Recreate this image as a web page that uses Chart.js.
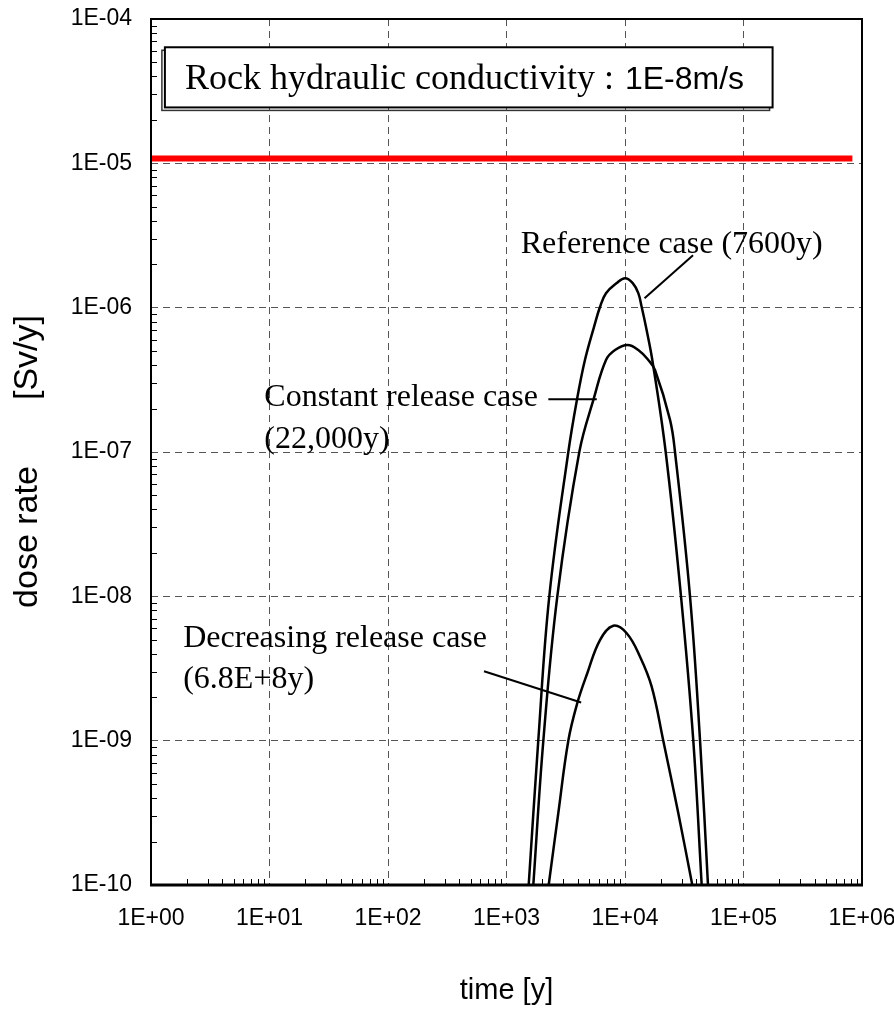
<!DOCTYPE html>
<html>
<head>
<meta charset="utf-8">
<script src="https://cdn.jsdelivr.net/npm/chart.js@4.4.1/dist/chart.umd.min.js"></script>
<style>
  body { margin: 0; background: #fff; }
  #wrap { width: 894px; height: 1011px; }
</style>
</head>
<body>
<div id="wrap"><canvas id="chart-canvas"></canvas></div>
<script>
// axis ticks
const xTicks = [1, 10, 100, 1000, 10000, 100000, 1000000];
const xTickLabels = ['1E+00', '1E+01', '1E+02', '1E+03', '1E+04', '1E+05', '1E+06'];
const yTicks = [1e-10, 1e-9, 1e-8, 1e-7, 1e-6, 1e-5, 1e-4];
const yTickLabels = ['1E-10', '1E-09', '1E-08', '1E-07', '1E-06', '1E-05', '1E-04'];

// reference case (7600y)
const refTime = [1539, 1854, 2297, 3324, 3956, 4592, 5472, 6150, 6913, 8515, 10000,
                 11620, 12950, 13830, 15040, 17000, 22050, 29690, 37700, 44380];
const refDose = [1e-10, 1e-9, 1e-8, 1e-7, 2.37e-7, 4.34e-7, 7.34e-7, 1.01e-6, 1.26e-6, 1.48e-6, 1.6e-6,
                 1.48e-6, 1.26e-6, 1.01e-6, 7.34e-7, 4.34e-7, 1e-7, 1e-8, 1e-9, 1e-10];

// constant release case (22,000y)
const constTime = [1684, 2046, 2684, 4115, 5472, 6913, 8240, 10540,
                   12950, 15730, 17910, 23990, 26420, 35370, 42990, 50150];
const constDose = [1e-10, 1e-9, 1e-8, 1e-7, 2.37e-7, 4.34e-7, 5.09e-7, 5.51e-7,
                   5.09e-7, 4.34e-7, 3.7e-7, 1.67e-7, 1e-7, 1e-8, 1e-9, 1e-10];

// decreasing release case (6.8E+8y)
const decTime = [2270, 2735, 3324, 3956, 4806, 6150, 7962, 10330, 13390, 16790, 21040, 28180, 36980];
const decDose = [1e-10, 3.14e-10, 1e-9, 1.82e-9, 2.93e-9, 4.98e-9, 6.25e-9, 5.55e-9, 3.82e-9, 2.37e-9, 1e-9, 3.14e-10, 1e-10];

// limit line
const limitTime = [1, 830000];
const limitDose = [1.08e-5, 1.08e-5];

// leader lines from the labels to the curves
const refPointerTime = [37500, 14620];
const refPointerDose = [2.31e-6, 1.16e-6];
const constPointerTime = [2254, 5780];
const constPointerDose = [2.32e-7, 2.32e-7];
const decPointerTime = [646, 4266];
const decPointerDose = [3.03e-9, 1.84e-9];

const SERIF = "'Liberation Serif', 'Times New Roman', serif";
const SANS = "'Liberation Sans', Arial, sans-serif";

function toPoints(times, doses) {
    return times.map((t, i) => ({ x: t, y: doses[i] }));
}

function curve(times, doses) {
    return {
        data: toPoints(times, doses),
        borderColor: '#000',
        borderWidth: 2.5,
        pointRadius: 0,
        tension: 0.4
    };
}

function pointer(times, doses) {
    return {
        data: toPoints(times, doses),
        borderColor: '#000',
        borderWidth: 2,
        pointRadius: 0,
        tension: 0
    };
}

// text labels, placed in data coordinates
const notes = [
    { text: 'Reference case (7600y)', t: 1318, v: 2.38e-6 },
    { text: 'Constant release case', t: 9.04, v: 2.08e-7 },
    { text: '(22,000y)', t: 9.04, v: 1.06e-7 },
    { text: 'Decreasing release case', t: 1.87, v: 4.43e-9 },
    { text: '(6.8E+8y)', t: 1.87, v: 2.32e-9 }
];

const notesPlugin = {
    id: 'notes',
    afterDraw(chart) {
        const ctx = chart.ctx;
        const xs = chart.scales.x;
        const ys = chart.scales.y;
        const area = chart.chartArea;
        ctx.save();

        // minor ticks, pointing into the plot
        ctx.strokeStyle = '#000';
        ctx.lineWidth = 1;
        ctx.beginPath();
        for (let d = 0; d < 6; d++) {
            for (let m = 2; m <= 9; m++) {
                const px = Math.round(xs.getPixelForValue(m * Math.pow(10, d))) + 0.5;
                ctx.moveTo(px, area.bottom);
                ctx.lineTo(px, area.bottom - 6);
            }
        }
        for (let d = -10; d < -4; d++) {
            for (let m = 2; m <= 9; m++) {
                const py = Math.round(ys.getPixelForValue(m * Math.pow(10, d))) + 0.5;
                ctx.moveTo(area.left, py);
                ctx.lineTo(area.left + 6, py);
            }
        }
        ctx.stroke();

        // frame
        ctx.lineWidth = 2;
        ctx.strokeRect(area.left, area.top, area.right - area.left, area.bottom - area.top);
        ctx.lineWidth = 3;
        ctx.beginPath();
        ctx.moveTo(area.left - 1, area.bottom);
        ctx.lineTo(area.right + 1, area.bottom);
        ctx.stroke();

        // title box
        const bx1 = xs.getPixelForValue(1.31);
        const bx2 = xs.getPixelForValue(176000);
        const by1 = ys.getPixelForValue(6.37e-5);
        const by2 = ys.getPixelForValue(2.44e-5);
        ctx.lineWidth = 1.5;
        ctx.strokeStyle = '#333';
        ctx.strokeRect(bx1 - 3, by1 + 3, bx2 - bx1, by2 - by1);
        ctx.fillStyle = '#fff';
        ctx.fillRect(bx1, by1, bx2 - bx1, by2 - by1);
        ctx.strokeStyle = '#000';
        ctx.lineWidth = 2;
        ctx.strokeRect(bx1, by1, bx2 - bx1, by2 - by1);

        ctx.fillStyle = '#000';
        ctx.textBaseline = 'alphabetic';
        ctx.textAlign = 'left';
        const tx = xs.getPixelForValue(1.94);
        const ty = ys.getPixelForValue(3.26e-5);
        ctx.font = '36px ' + SERIF;
        const head = 'Rock hydraulic conductivity :';
        ctx.fillText(head, tx, ty);
        const w = ctx.measureText(head).width;
        ctx.font = '32px ' + SANS;
        ctx.fillText(' 1E-8m/s', tx + w + 2, ty);

        // curve labels
        ctx.font = '32px ' + SERIF;
        notes.forEach(n => {
            ctx.fillText(n.text, xs.getPixelForValue(n.t), ys.getPixelForValue(n.v));
        });
        ctx.restore();
    }
};

function init() {
    const ctx = document.getElementById('chart-canvas').getContext('2d');
    new Chart(ctx, {
        type: 'line',
        data: {
            datasets: [
                {
                    data: toPoints(limitTime, limitDose),
                    borderColor: '#ff0000',
                    borderWidth: 6,
                    pointRadius: 0
                },
                curve(refTime, refDose),
                curve(constTime, constDose),
                curve(decTime, decDose),
                pointer(refPointerTime, refPointerDose),
                pointer(constPointerTime, constPointerDose),
                pointer(decPointerTime, decPointerDose)
            ]
        },
        options: {
            responsive: true,
            maintainAspectRatio: false,
            animation: false,
            layout: { padding: { left: 0, top: 19, right: 32, bottom: 0 } },
            plugins: {
                legend: { display: false },
                tooltip: { enabled: false }
            },
            scales: {
                x: {
                    type: 'logarithmic',
                    min: 1,
                    max: 1000000,
                    afterBuildTicks: scale => { scale.ticks = xTicks.map(v => ({ value: v })); },
                    afterFit: scale => {
                        scale.height = 126;
                        scale.paddingLeft = 0;
                        scale.paddingRight = 0;
                    },
                    grid: { color: '#555', lineWidth: 1, drawTicks: false },
                    border: { display: false, dash: [7, 5] },
                    ticks: {
                        padding: 20,
                        color: '#000',
                        maxRotation: 0,
                        font: { family: SANS, size: 23 },
                        callback: (value, index) => xTickLabels[index]
                    },
                    title: {
                        display: true,
                        text: 'time [y]',
                        color: '#000',
                        font: { family: SANS, size: 29 },
                        padding: { top: 0, bottom: 3 }
                    }
                },
                y: {
                    type: 'logarithmic',
                    min: 1e-10,
                    max: 1e-4,
                    afterBuildTicks: scale => { scale.ticks = yTicks.map(v => ({ value: v })); },
                    afterFit: scale => {
                        scale.width = 151;
                        scale.paddingTop = 0;
                        scale.paddingBottom = 0;
                    },
                    grid: { color: '#555', lineWidth: 1, drawTicks: false },
                    border: { display: false, dash: [7, 5] },
                    ticks: {
                        padding: 19,
                        color: '#000',
                        font: { family: SANS, size: 23 },
                        callback: (value, index) => yTickLabels[index]
                    },
                    title: {
                        display: true,
                        text: 'dose rate       [Sv/y]  ',
                        color: '#000',
                        font: { family: SANS, size: 34 },
                        padding: { top: 7, bottom: 0 }
                    }
                }
            }
        },
        plugins: [notesPlugin]
    });
}

document.addEventListener('DOMContentLoaded', init);
</script>
</body>
</html>
